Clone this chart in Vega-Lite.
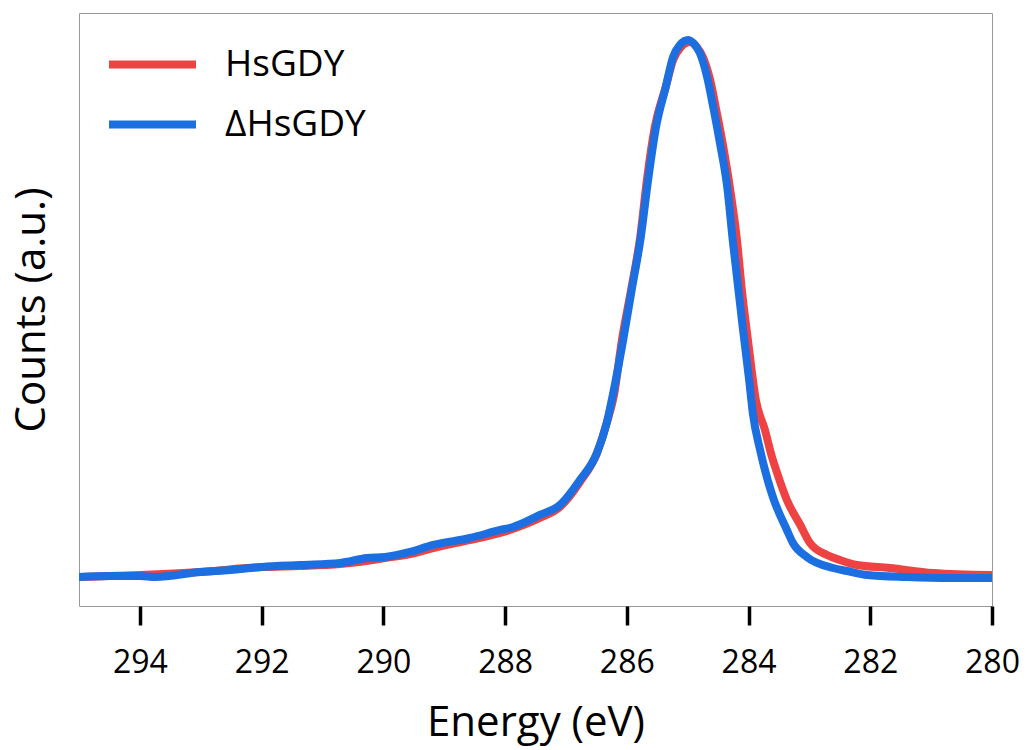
{
  "$schema": "https://vega.github.io/schema/vega-lite/v6.json",
  "width": 913,
  "height": 593,
  "autosize": {"type": "none"},
  "padding": {"left": 79, "top": 13, "right": 35, "bottom": 144},
  "background": "white",
  "config": {
    "font": "Open Sans",
    "view": {"stroke": "#999999", "strokeWidth": 1}
  },
  "data": {
    "values": [
      {"series": "HsGDY", "energy": 295.00, "counts": 0.0489},
      {"series": "HsGDY", "energy": 294.49, "counts": 0.0506},
      {"series": "HsGDY", "energy": 294.00, "counts": 0.0523},
      {"series": "HsGDY", "energy": 293.01, "counts": 0.0573},
      {"series": "HsGDY", "energy": 291.99, "counts": 0.0658},
      {"series": "HsGDY", "energy": 291.37, "counts": 0.0675},
      {"series": "HsGDY", "energy": 290.71, "counts": 0.0708},
      {"series": "HsGDY", "energy": 289.97, "counts": 0.0809},
      {"series": "HsGDY", "energy": 289.56, "counts": 0.0877},
      {"series": "HsGDY", "energy": 289.18, "counts": 0.0978},
      {"series": "HsGDY", "energy": 288.58, "counts": 0.1113},
      {"series": "HsGDY", "energy": 288.08, "counts": 0.1231},
      {"series": "HsGDY", "energy": 287.43, "counts": 0.1484},
      {"series": "HsGDY", "energy": 287.10, "counts": 0.1669},
      {"series": "HsGDY", "energy": 286.77, "counts": 0.2091},
      {"series": "HsGDY", "energy": 286.49, "counts": 0.2580},
      {"series": "HsGDY", "energy": 286.33, "counts": 0.3086},
      {"series": "HsGDY", "energy": 286.21, "counts": 0.3558},
      {"series": "HsGDY", "energy": 286.08, "counts": 0.4486},
      {"series": "HsGDY", "energy": 285.93, "counts": 0.5329},
      {"series": "HsGDY", "energy": 285.78, "counts": 0.6223},
      {"series": "HsGDY", "energy": 285.67, "counts": 0.7184},
      {"series": "HsGDY", "energy": 285.54, "counts": 0.8078},
      {"series": "HsGDY", "energy": 285.36, "counts": 0.8752},
      {"series": "HsGDY", "energy": 285.24, "counts": 0.9207},
      {"series": "HsGDY", "energy": 285.11, "counts": 0.9427},
      {"series": "HsGDY", "energy": 284.96, "counts": 0.9511},
      {"series": "HsGDY", "energy": 284.85, "counts": 0.9427},
      {"series": "HsGDY", "energy": 284.75, "counts": 0.9258},
      {"series": "HsGDY", "energy": 284.63, "counts": 0.8870},
      {"series": "HsGDY", "energy": 284.53, "counts": 0.8364},
      {"series": "HsGDY", "energy": 284.42, "counts": 0.7774},
      {"series": "HsGDY", "energy": 284.30, "counts": 0.7015},
      {"series": "HsGDY", "energy": 284.19, "counts": 0.6172},
      {"series": "HsGDY", "energy": 284.11, "counts": 0.5329},
      {"series": "HsGDY", "energy": 284.01, "counts": 0.4486},
      {"series": "HsGDY", "energy": 283.88, "counts": 0.3474},
      {"series": "HsGDY", "energy": 283.73, "counts": 0.2968},
      {"series": "HsGDY", "energy": 283.62, "counts": 0.2531},
      {"series": "HsGDY", "energy": 283.53, "counts": 0.2243},
      {"series": "HsGDY", "energy": 283.37, "counts": 0.1788},
      {"series": "HsGDY", "energy": 283.15, "counts": 0.1366},
      {"series": "HsGDY", "energy": 282.99, "counts": 0.1062},
      {"series": "HsGDY", "energy": 282.71, "counts": 0.0860},
      {"series": "HsGDY", "energy": 282.50, "counts": 0.0776},
      {"series": "HsGDY", "energy": 282.22, "counts": 0.0691},
      {"series": "HsGDY", "energy": 281.68, "counts": 0.0641},
      {"series": "HsGDY", "energy": 280.97, "counts": 0.0557},
      {"series": "HsGDY", "energy": 280.00, "counts": 0.0523},
      {"series": "ΔHsGDY", "energy": 295.00, "counts": 0.0489},
      {"series": "ΔHsGDY", "energy": 294.49, "counts": 0.0506},
      {"series": "ΔHsGDY", "energy": 294.00, "counts": 0.0506},
      {"series": "ΔHsGDY", "energy": 293.75, "counts": 0.0489},
      {"series": "ΔHsGDY", "energy": 293.01, "counts": 0.0573},
      {"series": "ΔHsGDY", "energy": 292.52, "counts": 0.0607},
      {"series": "ΔHsGDY", "energy": 291.99, "counts": 0.0658},
      {"series": "ΔHsGDY", "energy": 291.37, "counts": 0.0691},
      {"series": "ΔHsGDY", "energy": 290.71, "counts": 0.0725},
      {"series": "ΔHsGDY", "energy": 290.27, "counts": 0.0809},
      {"series": "ΔHsGDY", "energy": 289.97, "counts": 0.0826},
      {"series": "ΔHsGDY", "energy": 289.56, "counts": 0.0911},
      {"series": "ΔHsGDY", "energy": 289.18, "counts": 0.1029},
      {"series": "ΔHsGDY", "energy": 288.58, "counts": 0.1147},
      {"series": "ΔHsGDY", "energy": 288.08, "counts": 0.1282},
      {"series": "ΔHsGDY", "energy": 287.87, "counts": 0.1332},
      {"series": "ΔHsGDY", "energy": 287.43, "counts": 0.1535},
      {"series": "ΔHsGDY", "energy": 287.10, "counts": 0.1703},
      {"series": "ΔHsGDY", "energy": 286.77, "counts": 0.2125},
      {"series": "ΔHsGDY", "energy": 286.49, "counts": 0.2580},
      {"series": "ΔHsGDY", "energy": 286.33, "counts": 0.3086},
      {"series": "ΔHsGDY", "energy": 286.23, "counts": 0.3558},
      {"series": "ΔHsGDY", "energy": 286.06, "counts": 0.4486},
      {"series": "ΔHsGDY", "energy": 285.92, "counts": 0.5329},
      {"series": "ΔHsGDY", "energy": 285.77, "counts": 0.6223},
      {"series": "ΔHsGDY", "energy": 285.65, "counts": 0.7184},
      {"series": "ΔHsGDY", "energy": 285.52, "counts": 0.8078},
      {"series": "ΔHsGDY", "energy": 285.36, "counts": 0.8752},
      {"series": "ΔHsGDY", "energy": 285.24, "counts": 0.9258},
      {"series": "ΔHsGDY", "energy": 285.13, "counts": 0.9460},
      {"series": "ΔHsGDY", "energy": 284.99, "counts": 0.9545},
      {"series": "ΔHsGDY", "energy": 284.88, "counts": 0.9460},
      {"series": "ΔHsGDY", "energy": 284.80, "counts": 0.9325},
      {"series": "ΔHsGDY", "energy": 284.68, "counts": 0.8921},
      {"series": "ΔHsGDY", "energy": 284.58, "counts": 0.8415},
      {"series": "ΔHsGDY", "energy": 284.47, "counts": 0.7808},
      {"series": "ΔHsGDY", "energy": 284.35, "counts": 0.7066},
      {"series": "ΔHsGDY", "energy": 284.26, "counts": 0.6172},
      {"series": "ΔHsGDY", "energy": 284.09, "counts": 0.4654},
      {"series": "ΔHsGDY", "energy": 283.99, "counts": 0.3811},
      {"series": "ΔHsGDY", "energy": 283.93, "counts": 0.3255},
      {"series": "ΔHsGDY", "energy": 283.81, "counts": 0.2631},
      {"series": "ΔHsGDY", "energy": 283.76, "counts": 0.2411},
      {"series": "ΔHsGDY", "energy": 283.60, "counts": 0.1838},
      {"series": "ΔHsGDY", "energy": 283.37, "counts": 0.1282},
      {"series": "ΔHsGDY", "energy": 283.27, "counts": 0.1062},
      {"series": "ΔHsGDY", "energy": 283.04, "counts": 0.0826},
      {"series": "ΔHsGDY", "energy": 282.61, "counts": 0.0641},
      {"series": "ΔHsGDY", "energy": 282.38, "counts": 0.0590},
      {"series": "ΔHsGDY", "energy": 282.05, "counts": 0.0523},
      {"series": "ΔHsGDY", "energy": 281.40, "counts": 0.0489},
      {"series": "ΔHsGDY", "energy": 280.69, "counts": 0.0472},
      {"series": "ΔHsGDY", "energy": 280.00, "counts": 0.0472}
    ]
  },
  "mark": {"type": "line", "strokeWidth": 8, "strokeJoin": "round", "strokeCap": "round", "interpolate": "monotone", "clip": true},
  "encoding": {
    "x": {
      "field": "energy",
      "type": "quantitative",
      "scale": {"domain": [280, 295], "reverse": true, "nice": false, "zero": false},
      "axis": {
        "title": "Energy (eV)",
        "values": [294, 292, 290, 288, 286, 284, 282, 280],
        "format": "d",
        "grid": false,
        "domain": false,
        "tickColor": "black",
        "tickWidth": 3.5,
        "tickSize": 19,
        "labelFontSize": 32,
        "labelColor": "black",
        "labelPadding": 22,
        "labelFlush": false,
        "titleFontSize": 42,
        "titleFontWeight": "normal",
        "titleColor": "black",
        "titlePadding": 24
      }
    },
    "y": {
      "field": "counts",
      "type": "quantitative",
      "scale": {"domain": [0, 1], "nice": false},
      "axis": {
        "title": "Counts (a.u.)",
        "labels": false,
        "ticks": false,
        "domain": false,
        "grid": false,
        "titleFontSize": 42,
        "titleFontWeight": "normal",
        "titleColor": "black",
        "titlePadding": 26
      }
    },
    "color": {
      "field": "series",
      "type": "nominal",
      "sort": ["HsGDY", "ΔHsGDY"],
      "scale": {"domain": ["HsGDY", "ΔHsGDY"], "range": ["#EF4343", "#1B6FE0"]},
      "legend": {
        "title": null,
        "orient": "none",
        "legendX": 52,
        "legendY": 30,
        "padding": 0,
        "symbolType": "M-2.5,0H2.5",
        "symbolSize": 1211,
        "symbolStrokeWidth": 8,
        "labelFontSize": 37,
        "labelColor": "black",
        "labelOffset": 51,
        "rowPadding": 20
      }
    }
  }
}
